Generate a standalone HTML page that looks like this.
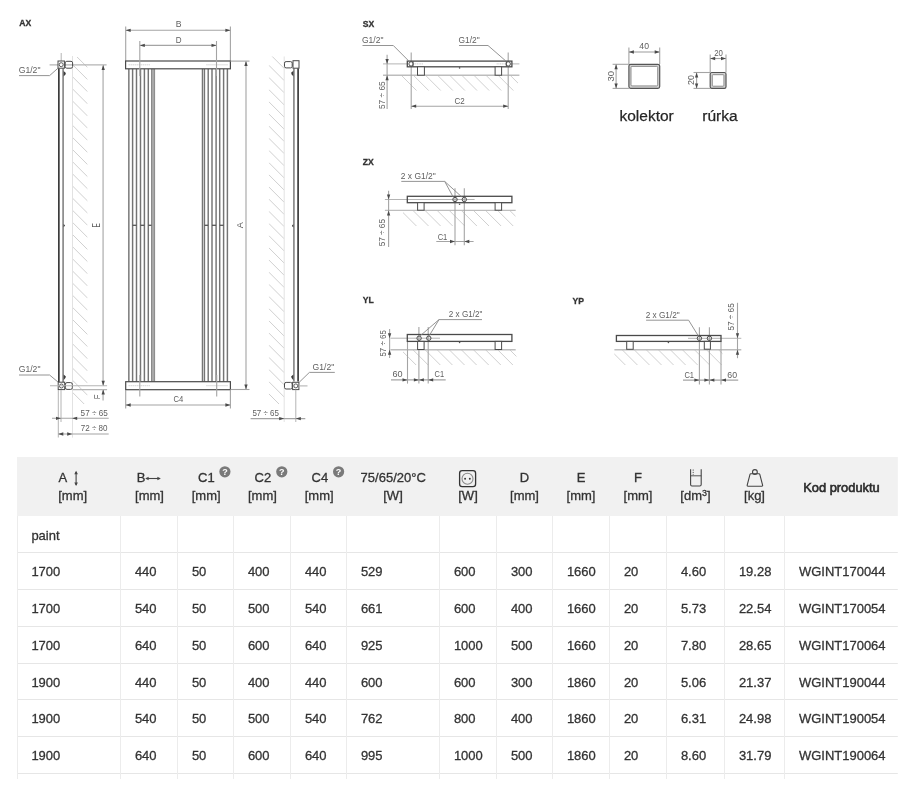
<!DOCTYPE html>
<html><head><meta charset="utf-8"><title>WGINT</title>
<style>
html,body{margin:0;padding:0;background:#fff;width:910px;height:790px;overflow:hidden}
svg{position:absolute;left:0;top:0;font-family:"Liberation Sans", sans-serif;will-change:transform}
</style></head>
<body>
<svg width="910" height="790" viewBox="0 0 910 790">
<g id="drawing">
<text x="19.3" y="26.3" font-size="8.6" fill="#333" font-weight="bold" stroke="#333" stroke-width="0.3">AX</text>
<clipPath id="v1"><rect x="72.4" y="57" width="15.2" height="347"/></clipPath>
<g clip-path="url(#v1)">
<line x1="72.4" y1="40.18" x2="87.6" y2="55.38" stroke="#cbcbcb" stroke-width="0.9"/>
<line x1="72.4" y1="52.32" x2="87.6" y2="67.52" stroke="#cbcbcb" stroke-width="0.9"/>
<line x1="72.4" y1="64.46" x2="87.6" y2="79.66" stroke="#cbcbcb" stroke-width="0.9"/>
<line x1="72.4" y1="76.6" x2="87.6" y2="91.8" stroke="#cbcbcb" stroke-width="0.9"/>
<line x1="72.4" y1="88.74" x2="87.6" y2="103.94" stroke="#cbcbcb" stroke-width="0.9"/>
<line x1="72.4" y1="100.88" x2="87.6" y2="116.08" stroke="#cbcbcb" stroke-width="0.9"/>
<line x1="72.4" y1="113.02" x2="87.6" y2="128.22" stroke="#cbcbcb" stroke-width="0.9"/>
<line x1="72.4" y1="125.16" x2="87.6" y2="140.36" stroke="#cbcbcb" stroke-width="0.9"/>
<line x1="72.4" y1="137.3" x2="87.6" y2="152.5" stroke="#cbcbcb" stroke-width="0.9"/>
<line x1="72.4" y1="149.44" x2="87.6" y2="164.64" stroke="#cbcbcb" stroke-width="0.9"/>
<line x1="72.4" y1="161.58" x2="87.6" y2="176.78" stroke="#cbcbcb" stroke-width="0.9"/>
<line x1="72.4" y1="173.72" x2="87.6" y2="188.92" stroke="#cbcbcb" stroke-width="0.9"/>
<line x1="72.4" y1="185.86" x2="87.6" y2="201.06" stroke="#cbcbcb" stroke-width="0.9"/>
<line x1="72.4" y1="198" x2="87.6" y2="213.2" stroke="#cbcbcb" stroke-width="0.9"/>
<line x1="72.4" y1="210.14" x2="87.6" y2="225.34" stroke="#cbcbcb" stroke-width="0.9"/>
<line x1="72.4" y1="222.28" x2="87.6" y2="237.48" stroke="#cbcbcb" stroke-width="0.9"/>
<line x1="72.4" y1="234.42" x2="87.6" y2="249.62" stroke="#cbcbcb" stroke-width="0.9"/>
<line x1="72.4" y1="246.56" x2="87.6" y2="261.76" stroke="#cbcbcb" stroke-width="0.9"/>
<line x1="72.4" y1="258.7" x2="87.6" y2="273.9" stroke="#cbcbcb" stroke-width="0.9"/>
<line x1="72.4" y1="270.84" x2="87.6" y2="286.04" stroke="#cbcbcb" stroke-width="0.9"/>
<line x1="72.4" y1="282.98" x2="87.6" y2="298.18" stroke="#cbcbcb" stroke-width="0.9"/>
<line x1="72.4" y1="295.12" x2="87.6" y2="310.32" stroke="#cbcbcb" stroke-width="0.9"/>
<line x1="72.4" y1="307.26" x2="87.6" y2="322.46" stroke="#cbcbcb" stroke-width="0.9"/>
<line x1="72.4" y1="319.4" x2="87.6" y2="334.6" stroke="#cbcbcb" stroke-width="0.9"/>
<line x1="72.4" y1="331.54" x2="87.6" y2="346.74" stroke="#cbcbcb" stroke-width="0.9"/>
<line x1="72.4" y1="343.68" x2="87.6" y2="358.88" stroke="#cbcbcb" stroke-width="0.9"/>
<line x1="72.4" y1="355.82" x2="87.6" y2="371.02" stroke="#cbcbcb" stroke-width="0.9"/>
<line x1="72.4" y1="367.96" x2="87.6" y2="383.16" stroke="#cbcbcb" stroke-width="0.9"/>
<line x1="72.4" y1="380.1" x2="87.6" y2="395.3" stroke="#cbcbcb" stroke-width="0.9"/>
<line x1="72.4" y1="392.24" x2="87.6" y2="407.44" stroke="#cbcbcb" stroke-width="0.9"/>
<line x1="72.4" y1="404.38" x2="87.6" y2="419.58" stroke="#cbcbcb" stroke-width="0.9"/>
</g>
<line x1="72.5" y1="56" x2="72.5" y2="437.6" stroke="#e2e2e2" stroke-width="1"/>
<line x1="61.2" y1="53" x2="61.2" y2="61" stroke="#b4b4b4" stroke-width="1"/>
<line x1="49.6" y1="64.9" x2="106.6" y2="64.9" stroke="#b4b4b4" stroke-width="1.1"/>
<line x1="58.85" y1="68.2" x2="58.85" y2="382.2" stroke="#3c3c3c" stroke-width="1.7"/>
<line x1="63.1" y1="68.2" x2="63.1" y2="382.2" stroke="#8a8a8a" stroke-width="1.7"/>
<rect x="58" y="61" width="6.4" height="7.2" rx="0" fill="#fff" stroke="#4a4a4a" stroke-width="1"/>
<circle cx="61.2" cy="64.7" r="2" fill="none" stroke="#4a4a4a" stroke-width="0.9"/>
<rect x="65.2" y="61.3" width="7.4" height="6.9" rx="1.6" fill="none" stroke="#4a4a4a" stroke-width="1"/>
<polygon points="63.6,71 65.9,73 65.4,74.4 63.6,76.6" fill="#3c3c3c"/>
<polygon points="63.6,223.96 64.98,225.16 64.68,226 63.6,227.32" fill="#3c3c3c"/>
<rect x="58.2" y="382.2" width="6.5" height="7.4" rx="0" fill="#fff" stroke="#4a4a4a" stroke-width="1"/>
<circle cx="61.4" cy="386" r="2" fill="none" stroke="#4a4a4a" stroke-width="0.9"/>
<rect x="65.4" y="382.6" width="6.9" height="6.8" rx="1.6" fill="none" stroke="#4a4a4a" stroke-width="1"/>
<polygon points="63.6,374.6 65.9,376.6 65.4,378 63.6,380.2" fill="#3c3c3c"/>
<line x1="50" y1="385.7" x2="107.1" y2="385.7" stroke="#b4b4b4" stroke-width="1.1"/>
<line x1="72.6" y1="389.6" x2="107.1" y2="389.6" stroke="#b4b4b4" stroke-width="1.1"/>
<line x1="103.1" y1="65" x2="103.1" y2="385.7" stroke="#c4c4c4" stroke-width="1.7"/>
<polygon points="103.2,65 101.55,70 104.85,70" fill="#4a4a4a"/>
<polygon points="103.2,385.7 101.55,380.7 104.85,380.7" fill="#4a4a4a"/>
<line x1="103.1" y1="389.6" x2="103.1" y2="400.5" stroke="#c4c4c4" stroke-width="1.7"/>
<polygon points="103.2,389.6 101.55,394.6 104.85,394.6" fill="#4a4a4a"/>
<text x="100.05" y="227.6" font-size="10.06" fill="#606060" textLength="4.41" lengthAdjust="spacingAndGlyphs" transform="rotate(-90 100.05 227.6)">E</text>
<text x="99.85" y="399.32" font-size="8.38" fill="#606060" textLength="4.74" lengthAdjust="spacingAndGlyphs" transform="rotate(-90 99.85 399.32)">F</text>
<text x="18.7" y="73.15" font-size="9.92" fill="#606060" textLength="21.79" lengthAdjust="spacingAndGlyphs">G1/2"</text>
<polyline points="19,75.6 49.6,75.6 58,68.2" fill="none" stroke="#888" stroke-width="0.9"/>
<text x="18.72" y="372.15" font-size="9.64" fill="#606060" textLength="21.76" lengthAdjust="spacingAndGlyphs">G1/2"</text>
<polyline points="19,375 49.6,375 58.2,382.2" fill="none" stroke="#888" stroke-width="0.9"/>
<line x1="58.3" y1="390" x2="58.3" y2="437.5" stroke="#b4b4b4" stroke-width="1"/>
<line x1="61" y1="390" x2="61" y2="422" stroke="#b4b4b4" stroke-width="1"/>
<line x1="52" y1="418.3" x2="108.7" y2="418.3" stroke="#a4a4a4" stroke-width="1.1"/>
<polygon points="61,418.3 56,416.65 56,419.95" fill="#4a4a4a"/>
<polygon points="72.2,418.3 77.2,416.65 77.2,419.95" fill="#4a4a4a"/>
<text x="80.62" y="415.75" font-size="9.64" fill="#606060" textLength="27.06" lengthAdjust="spacingAndGlyphs">57 ÷ 65</text>
<line x1="58.2" y1="434" x2="108.7" y2="434" stroke="#a4a4a4" stroke-width="1.1"/>
<polygon points="58.3,434 63.3,432.35 63.3,435.65" fill="#4a4a4a"/>
<polygon points="72.2,434 67.2,432.35 67.2,435.65" fill="#4a4a4a"/>
<text x="80.73" y="431.05" font-size="9.5" fill="#606060" textLength="26.75" lengthAdjust="spacingAndGlyphs">72 ÷ 80</text>
<line x1="125.7" y1="26.4" x2="125.7" y2="61" stroke="#a4a4a4" stroke-width="1.1"/>
<line x1="230.4" y1="26.4" x2="230.4" y2="61" stroke="#a4a4a4" stroke-width="1.1"/>
<line x1="125.7" y1="30.3" x2="230.4" y2="30.3" stroke="#a4a4a4" stroke-width="1.1"/>
<polygon points="125.7,30.3 130.7,28.65 130.7,31.95" fill="#4a4a4a"/>
<polygon points="230.4,30.3 225.4,28.65 225.4,31.95" fill="#4a4a4a"/>
<text x="175.65" y="27.15" font-size="9.08" fill="#606060" textLength="5.81" lengthAdjust="spacingAndGlyphs">B</text>
<line x1="139.8" y1="45.4" x2="216.5" y2="45.4" stroke="#a4a4a4" stroke-width="1.1"/>
<polygon points="139.8,45.4 144.8,43.75 144.8,47.05" fill="#4a4a4a"/>
<polygon points="216.5,45.4 211.5,43.75 211.5,47.05" fill="#4a4a4a"/>
<text x="175.64" y="42.85" font-size="9.22" fill="#606060" textLength="5.82" lengthAdjust="spacingAndGlyphs">D</text>
<line x1="128.85" y1="68.8" x2="128.85" y2="381.7" stroke="#747474" stroke-width="1.45"/>
<line x1="132.6" y1="68.8" x2="132.6" y2="381.7" stroke="#747474" stroke-width="1.45"/>
<line x1="136.5" y1="68.8" x2="136.5" y2="381.7" stroke="#747474" stroke-width="1.45"/>
<line x1="140.5" y1="68.8" x2="140.5" y2="381.7" stroke="#747474" stroke-width="1.45"/>
<line x1="144.4" y1="68.8" x2="144.4" y2="381.7" stroke="#747474" stroke-width="1.45"/>
<line x1="148.3" y1="68.8" x2="148.3" y2="381.7" stroke="#747474" stroke-width="1.45"/>
<line x1="208.2" y1="68.8" x2="208.2" y2="381.7" stroke="#747474" stroke-width="1.45"/>
<line x1="212" y1="68.8" x2="212" y2="381.7" stroke="#747474" stroke-width="1.45"/>
<line x1="216.1" y1="68.8" x2="216.1" y2="381.7" stroke="#747474" stroke-width="1.45"/>
<line x1="219.7" y1="68.8" x2="219.7" y2="381.7" stroke="#747474" stroke-width="1.45"/>
<line x1="223.6" y1="68.8" x2="223.6" y2="381.7" stroke="#747474" stroke-width="1.45"/>
<line x1="227.4" y1="68.8" x2="227.4" y2="381.7" stroke="#747474" stroke-width="1.45"/>
<rect x="151.3" y="68.8" width="3.5" height="312.9" fill="#a8a8a8"/>
<line x1="151.5" y1="68.8" x2="151.5" y2="381.7" stroke="#8a8a8a" stroke-width="1"/>
<line x1="154.6" y1="68.8" x2="154.6" y2="381.7" stroke="#8a8a8a" stroke-width="1"/>
<rect x="202.4" y="68.8" width="2.1" height="312.9" fill="#dcdcdc"/>
<line x1="202.4" y1="68.8" x2="202.4" y2="381.7" stroke="#747474" stroke-width="1.3"/>
<line x1="204.5" y1="68.8" x2="204.5" y2="381.7" stroke="#747474" stroke-width="1.3"/>
<line x1="132.6" y1="225.3" x2="136.5" y2="225.3" stroke="#555" stroke-width="1.3"/>
<line x1="140.5" y1="225.3" x2="144.4" y2="225.3" stroke="#555" stroke-width="1.3"/>
<line x1="148.3" y1="225.3" x2="151.5" y2="225.3" stroke="#555" stroke-width="1.3"/>
<line x1="204.5" y1="225.3" x2="208.2" y2="225.3" stroke="#555" stroke-width="1.3"/>
<line x1="212" y1="225.3" x2="216.1" y2="225.3" stroke="#555" stroke-width="1.3"/>
<line x1="219.7" y1="225.3" x2="223.6" y2="225.3" stroke="#555" stroke-width="1.3"/>
<rect x="125.6" y="61" width="104.8" height="7.8" rx="0" fill="#fff" stroke="#4a4a4a" stroke-width="1.2"/>
<line x1="128.6" y1="64.8" x2="150" y2="64.8" stroke="#bbb" stroke-width="0.8" stroke-dasharray="1.2,0.8"/>
<line x1="206.4" y1="64.8" x2="227.9" y2="64.8" stroke="#bbb" stroke-width="0.8" stroke-dasharray="1.2,0.8"/>
<line x1="139.8" y1="41" x2="139.8" y2="76" stroke="#a4a4a4" stroke-width="1.1"/>
<line x1="216.5" y1="41" x2="216.5" y2="76" stroke="#a4a4a4" stroke-width="1.1"/>
<rect x="125.7" y="381.7" width="104.7" height="8" rx="0" fill="#fff" stroke="#4a4a4a" stroke-width="1.2"/>
<line x1="128.6" y1="385.7" x2="150" y2="385.7" stroke="#bbb" stroke-width="0.8" stroke-dasharray="1.2,0.8"/>
<line x1="206.4" y1="385.7" x2="227.9" y2="385.7" stroke="#bbb" stroke-width="0.8" stroke-dasharray="1.2,0.8"/>
<line x1="139.8" y1="375" x2="139.8" y2="396.4" stroke="#a4a4a4" stroke-width="1.1"/>
<line x1="216.7" y1="375" x2="216.7" y2="396.4" stroke="#a4a4a4" stroke-width="1.1"/>
<line x1="125.7" y1="390" x2="125.7" y2="408.6" stroke="#a4a4a4" stroke-width="1.1"/>
<line x1="230.4" y1="390" x2="230.4" y2="408.6" stroke="#a4a4a4" stroke-width="1.1"/>
<line x1="125.7" y1="405" x2="230.4" y2="405" stroke="#a4a4a4" stroke-width="1.1"/>
<polygon points="125.7,405 130.7,403.35 130.7,406.65" fill="#4a4a4a"/>
<polygon points="230.4,405 225.4,403.35 225.4,406.65" fill="#4a4a4a"/>
<text x="173.54" y="402.25" font-size="9.22" fill="#606060" textLength="9.82" lengthAdjust="spacingAndGlyphs">C4</text>
<line x1="230.4" y1="61.1" x2="249.5" y2="61.1" stroke="#a4a4a4" stroke-width="1.1"/>
<line x1="230.4" y1="389.5" x2="249.5" y2="389.5" stroke="#a4a4a4" stroke-width="1.1"/>
<line x1="246" y1="61" x2="246" y2="389.2" stroke="#c4c4c4" stroke-width="1.7"/>
<polygon points="246,61.1 244.35,66.1 247.65,66.1" fill="#4a4a4a"/>
<polygon points="246,389.5 244.35,384.5 247.65,384.5" fill="#4a4a4a"/>
<text x="243.15" y="228.25" font-size="9.08" fill="#606060" textLength="6.01" lengthAdjust="spacingAndGlyphs" transform="rotate(-90 243.15 228.25)">A</text>
<clipPath id="v128"><rect x="268.8" y="56.5" width="15.4" height="347.5"/></clipPath>
<g clip-path="url(#v128)">
<line x1="268.8" y1="40.86" x2="284.2" y2="56.26" stroke="#cbcbcb" stroke-width="0.9"/>
<line x1="268.8" y1="53.03" x2="284.2" y2="68.43" stroke="#cbcbcb" stroke-width="0.9"/>
<line x1="268.8" y1="65.2" x2="284.2" y2="80.6" stroke="#cbcbcb" stroke-width="0.9"/>
<line x1="268.8" y1="77.37" x2="284.2" y2="92.77" stroke="#cbcbcb" stroke-width="0.9"/>
<line x1="268.8" y1="89.54" x2="284.2" y2="104.94" stroke="#cbcbcb" stroke-width="0.9"/>
<line x1="268.8" y1="101.71" x2="284.2" y2="117.11" stroke="#cbcbcb" stroke-width="0.9"/>
<line x1="268.8" y1="113.88" x2="284.2" y2="129.28" stroke="#cbcbcb" stroke-width="0.9"/>
<line x1="268.8" y1="126.05" x2="284.2" y2="141.45" stroke="#cbcbcb" stroke-width="0.9"/>
<line x1="268.8" y1="138.22" x2="284.2" y2="153.62" stroke="#cbcbcb" stroke-width="0.9"/>
<line x1="268.8" y1="150.39" x2="284.2" y2="165.79" stroke="#cbcbcb" stroke-width="0.9"/>
<line x1="268.8" y1="162.56" x2="284.2" y2="177.96" stroke="#cbcbcb" stroke-width="0.9"/>
<line x1="268.8" y1="174.73" x2="284.2" y2="190.13" stroke="#cbcbcb" stroke-width="0.9"/>
<line x1="268.8" y1="186.9" x2="284.2" y2="202.3" stroke="#cbcbcb" stroke-width="0.9"/>
<line x1="268.8" y1="199.07" x2="284.2" y2="214.47" stroke="#cbcbcb" stroke-width="0.9"/>
<line x1="268.8" y1="211.24" x2="284.2" y2="226.64" stroke="#cbcbcb" stroke-width="0.9"/>
<line x1="268.8" y1="223.41" x2="284.2" y2="238.81" stroke="#cbcbcb" stroke-width="0.9"/>
<line x1="268.8" y1="235.58" x2="284.2" y2="250.98" stroke="#cbcbcb" stroke-width="0.9"/>
<line x1="268.8" y1="247.75" x2="284.2" y2="263.15" stroke="#cbcbcb" stroke-width="0.9"/>
<line x1="268.8" y1="259.92" x2="284.2" y2="275.32" stroke="#cbcbcb" stroke-width="0.9"/>
<line x1="268.8" y1="272.09" x2="284.2" y2="287.49" stroke="#cbcbcb" stroke-width="0.9"/>
<line x1="268.8" y1="284.26" x2="284.2" y2="299.66" stroke="#cbcbcb" stroke-width="0.9"/>
<line x1="268.8" y1="296.43" x2="284.2" y2="311.83" stroke="#cbcbcb" stroke-width="0.9"/>
<line x1="268.8" y1="308.6" x2="284.2" y2="324" stroke="#cbcbcb" stroke-width="0.9"/>
<line x1="268.8" y1="320.77" x2="284.2" y2="336.17" stroke="#cbcbcb" stroke-width="0.9"/>
<line x1="268.8" y1="332.94" x2="284.2" y2="348.34" stroke="#cbcbcb" stroke-width="0.9"/>
<line x1="268.8" y1="345.11" x2="284.2" y2="360.51" stroke="#cbcbcb" stroke-width="0.9"/>
<line x1="268.8" y1="357.28" x2="284.2" y2="372.68" stroke="#cbcbcb" stroke-width="0.9"/>
<line x1="268.8" y1="369.45" x2="284.2" y2="384.85" stroke="#cbcbcb" stroke-width="0.9"/>
<line x1="268.8" y1="381.62" x2="284.2" y2="397.02" stroke="#cbcbcb" stroke-width="0.9"/>
<line x1="268.8" y1="393.79" x2="284.2" y2="409.19" stroke="#cbcbcb" stroke-width="0.9"/>
</g>
<line x1="284.2" y1="56.5" x2="284.2" y2="422" stroke="#e2e2e2" stroke-width="1"/>
<line x1="293.9" y1="68.2" x2="293.9" y2="381.6" stroke="#8a8a8a" stroke-width="1.7"/>
<line x1="298.1" y1="68.2" x2="298.1" y2="381.6" stroke="#3c3c3c" stroke-width="1.7"/>
<rect x="284.5" y="61.6" width="7.7" height="6.3" rx="1.6" fill="none" stroke="#4a4a4a" stroke-width="1"/>
<rect x="293" y="60.7" width="6" height="7.5" rx="0" fill="#fff" stroke="#4a4a4a" stroke-width="1"/>
<polygon points="293.4,70.8 291.1,72.8 291.6,74.2 293.4,76.4" fill="#3c3c3c"/>
<polygon points="293.4,224.16 292.02,225.36 292.32,226.2 293.4,227.52" fill="#3c3c3c"/>
<polygon points="293.4,374.6 291.1,376.6 291.6,378 293.4,380.2" fill="#3c3c3c"/>
<rect x="284.5" y="382.4" width="7.7" height="6.6" rx="1.6" fill="none" stroke="#4a4a4a" stroke-width="1"/>
<rect x="292.6" y="382.3" width="6.3" height="7.3" rx="0" fill="#fff" stroke="#4a4a4a" stroke-width="1"/>
<circle cx="295.8" cy="385.9" r="2" fill="none" stroke="#4a4a4a" stroke-width="0.9"/>
<line x1="299" y1="385.9" x2="307.5" y2="385.9" stroke="#b4b4b4" stroke-width="1.1"/>
<polyline points="299.2,382.3 309.4,372.4 334.8,372.4" fill="none" stroke="#888" stroke-width="0.9"/>
<text x="312.61" y="369.95" font-size="9.78" fill="#606060" textLength="21.68" lengthAdjust="spacingAndGlyphs">G1/2"</text>
<line x1="295.8" y1="389.6" x2="295.8" y2="422" stroke="#b4b4b4" stroke-width="1"/>
<line x1="250.6" y1="418.6" x2="305.3" y2="418.6" stroke="#a4a4a4" stroke-width="1.1"/>
<polygon points="284.2,418.6 279.2,416.95 279.2,420.25" fill="#4a4a4a"/>
<polygon points="295.8,418.6 300.8,416.95 300.8,420.25" fill="#4a4a4a"/>
<text x="252.43" y="415.85" font-size="9.5" fill="#606060" textLength="26.55" lengthAdjust="spacingAndGlyphs">57 ÷ 65</text>
<text x="362.8" y="26.8" font-size="8.6" fill="#333" font-weight="bold" stroke="#333" stroke-width="0.3">SX</text>
<clipPath id="h181"><rect x="401.3" y="75.2" width="116.7" height="15.5"/></clipPath>
<g clip-path="url(#h181)">
<line x1="401.2" y1="75.2" x2="416.7" y2="90.7" stroke="#cbcbcb" stroke-width="0.9"/>
<line x1="413.3" y1="75.2" x2="428.8" y2="90.7" stroke="#cbcbcb" stroke-width="0.9"/>
<line x1="425.4" y1="75.2" x2="440.9" y2="90.7" stroke="#cbcbcb" stroke-width="0.9"/>
<line x1="437.5" y1="75.2" x2="453" y2="90.7" stroke="#cbcbcb" stroke-width="0.9"/>
<line x1="449.6" y1="75.2" x2="465.1" y2="90.7" stroke="#cbcbcb" stroke-width="0.9"/>
<line x1="461.7" y1="75.2" x2="477.2" y2="90.7" stroke="#cbcbcb" stroke-width="0.9"/>
<line x1="473.8" y1="75.2" x2="489.3" y2="90.7" stroke="#cbcbcb" stroke-width="0.9"/>
<line x1="485.9" y1="75.2" x2="501.4" y2="90.7" stroke="#cbcbcb" stroke-width="0.9"/>
<line x1="498" y1="75.2" x2="513.5" y2="90.7" stroke="#cbcbcb" stroke-width="0.9"/>
<line x1="510.1" y1="75.2" x2="525.6" y2="90.7" stroke="#cbcbcb" stroke-width="0.9"/>
</g>
<line x1="383" y1="75.2" x2="519.4" y2="75.2" stroke="#bdbdbd" stroke-width="1.4"/>
<line x1="383" y1="63.9" x2="519.4" y2="63.9" stroke="#b4b4b4" stroke-width="1"/>
<line x1="411.2" y1="52.5" x2="411.2" y2="109" stroke="#a4a4a4" stroke-width="1.1"/>
<line x1="508.2" y1="52.5" x2="508.2" y2="109" stroke="#a4a4a4" stroke-width="1.1"/>
<rect x="407.3" y="61.1" width="104.6" height="5.7" rx="0" fill="#fff" stroke="#4a4a4a" stroke-width="1.3"/>
<line x1="413" y1="61.1" x2="413" y2="66.8" stroke="#4a4a4a" stroke-width="0.9"/>
<line x1="506.3" y1="61.1" x2="506.3" y2="66.8" stroke="#4a4a4a" stroke-width="0.9"/>
<circle cx="411.1" cy="63.9" r="2.2" fill="none" stroke="#4a4a4a" stroke-width="1"/>
<circle cx="508.2" cy="63.9" r="2.2" fill="none" stroke="#4a4a4a" stroke-width="1"/>
<line x1="413.5" y1="63.9" x2="422.8" y2="63.9" stroke="#aaa" stroke-width="0.7" stroke-dasharray="1,0.7"/>
<line x1="496.7" y1="63.9" x2="506" y2="63.9" stroke="#aaa" stroke-width="0.7" stroke-dasharray="1,0.7"/>
<rect x="417.5" y="66.8" width="6.9" height="8.4" rx="0" fill="#fff" stroke="#4a4a4a" stroke-width="1"/>
<rect x="495.1" y="66.8" width="6.5" height="8.4" rx="0" fill="#fff" stroke="#4a4a4a" stroke-width="1"/>
<circle cx="459.6" cy="67.9" r="0.8" fill="#555"/>
<text x="362.01" y="43.45" font-size="9.78" fill="#606060" textLength="21.48" lengthAdjust="spacingAndGlyphs">G1/2"</text>
<polyline points="362.5,45.5 393.3,45.5 409.2,61.4" fill="none" stroke="#888" stroke-width="0.9"/>
<text x="458.51" y="43.45" font-size="9.78" fill="#606060" textLength="21.18" lengthAdjust="spacingAndGlyphs">G1/2"</text>
<polyline points="459,45.5 488,45.5 506.3,61.4" fill="none" stroke="#888" stroke-width="0.9"/>
<line x1="387.1" y1="54.8" x2="387.1" y2="109" stroke="#a4a4a4" stroke-width="1.1"/>
<polygon points="387.1,63.9 385.45,58.9 388.75,58.9" fill="#4a4a4a"/>
<polygon points="387.1,75.2 385.45,80.2 388.75,80.2" fill="#4a4a4a"/>
<text x="384.55" y="109" font-size="9.92" fill="#606060" textLength="27.69" lengthAdjust="spacingAndGlyphs" transform="rotate(-90 384.55 109)">57 ÷ 65</text>
<line x1="411.2" y1="106.2" x2="508.2" y2="106.2" stroke="#a4a4a4" stroke-width="1.1"/>
<polygon points="411.2,106.2 416.2,104.55 416.2,107.85" fill="#4a4a4a"/>
<polygon points="508.2,106.2 503.2,104.55 503.2,107.85" fill="#4a4a4a"/>
<text x="454.54" y="103.55" font-size="9.22" fill="#606060" textLength="10.22" lengthAdjust="spacingAndGlyphs">C2</text>
<text x="362.8" y="165" font-size="8.6" fill="#333" font-weight="bold" stroke="#333" stroke-width="0.3">ZX</text>
<clipPath id="h221"><rect x="403" y="210.4" width="112.5" height="15.6"/></clipPath>
<g clip-path="url(#h221)">
<line x1="400.8" y1="210.4" x2="416.4" y2="226" stroke="#cbcbcb" stroke-width="0.9"/>
<line x1="412.9" y1="210.4" x2="428.5" y2="226" stroke="#cbcbcb" stroke-width="0.9"/>
<line x1="425" y1="210.4" x2="440.6" y2="226" stroke="#cbcbcb" stroke-width="0.9"/>
<line x1="437.1" y1="210.4" x2="452.7" y2="226" stroke="#cbcbcb" stroke-width="0.9"/>
<line x1="449.2" y1="210.4" x2="464.8" y2="226" stroke="#cbcbcb" stroke-width="0.9"/>
<line x1="461.3" y1="210.4" x2="476.9" y2="226" stroke="#cbcbcb" stroke-width="0.9"/>
<line x1="473.4" y1="210.4" x2="489" y2="226" stroke="#cbcbcb" stroke-width="0.9"/>
<line x1="485.5" y1="210.4" x2="501.1" y2="226" stroke="#cbcbcb" stroke-width="0.9"/>
<line x1="497.6" y1="210.4" x2="513.2" y2="226" stroke="#cbcbcb" stroke-width="0.9"/>
<line x1="509.7" y1="210.4" x2="525.3" y2="226" stroke="#cbcbcb" stroke-width="0.9"/>
</g>
<line x1="384.9" y1="210.4" x2="515.7" y2="210.4" stroke="#bdbdbd" stroke-width="1.4"/>
<line x1="384.9" y1="199.5" x2="474.6" y2="199.5" stroke="#b4b4b4" stroke-width="1"/>
<line x1="455" y1="188.3" x2="455" y2="245.3" stroke="#a4a4a4" stroke-width="1.1"/>
<line x1="464.3" y1="188.3" x2="464.3" y2="245.3" stroke="#a4a4a4" stroke-width="1.1"/>
<rect x="407.3" y="196.3" width="104.6" height="6.4" rx="0" fill="none" stroke="#4a4a4a" stroke-width="1.3"/>
<circle cx="455" cy="199.5" r="2.2" fill="none" stroke="#4a4a4a" stroke-width="1"/>
<circle cx="464.3" cy="199.5" r="2.2" fill="none" stroke="#4a4a4a" stroke-width="1"/>
<rect x="417.6" y="202.7" width="6.5" height="7.5" rx="0" fill="#fff" stroke="#4a4a4a" stroke-width="1"/>
<rect x="495.1" y="202.7" width="6.5" height="7.5" rx="0" fill="#fff" stroke="#4a4a4a" stroke-width="1"/>
<circle cx="459.6" cy="204.2" r="0.8" fill="#555"/>
<text x="400.84" y="178.55" font-size="9.22" fill="#606060" textLength="34.92" lengthAdjust="spacingAndGlyphs">2 x G1/2"</text>
<polyline points="401.3,181.4 444.7,181.4 453,196.7" fill="none" stroke="#888" stroke-width="0.9"/>
<line x1="444.7" y1="181.4" x2="461.5" y2="196.7" stroke="#888" stroke-width="0.9"/>
<line x1="388.6" y1="190.7" x2="388.6" y2="247.1" stroke="#a4a4a4" stroke-width="1.1"/>
<polygon points="388.6,199.5 386.95,194.5 390.25,194.5" fill="#4a4a4a"/>
<polygon points="388.6,210.4 386.95,215.4 390.25,215.4" fill="#4a4a4a"/>
<text x="385.25" y="246.27" font-size="9.5" fill="#606060" textLength="27.25" lengthAdjust="spacingAndGlyphs" transform="rotate(-90 385.25 246.27)">57 ÷ 65</text>
<line x1="436.3" y1="241.5" x2="473.6" y2="241.5" stroke="#a4a4a4" stroke-width="1.1"/>
<polygon points="455,241.5 450,239.85 450,243.15" fill="#4a4a4a"/>
<polygon points="464.3,241.5 469.3,239.85 469.3,243.15" fill="#4a4a4a"/>
<text x="437.66" y="239.55" font-size="8.8" fill="#606060" textLength="9.68" lengthAdjust="spacingAndGlyphs">C1</text>
<text x="362.8" y="302.7" font-size="8.6" fill="#333" font-weight="bold" stroke="#333" stroke-width="0.3">YL</text>
<clipPath id="h256"><rect x="403" y="349.7" width="113.4" height="15.3"/></clipPath>
<g clip-path="url(#h256)">
<line x1="400.8" y1="349.7" x2="416.1" y2="365" stroke="#cbcbcb" stroke-width="0.9"/>
<line x1="412.9" y1="349.7" x2="428.2" y2="365" stroke="#cbcbcb" stroke-width="0.9"/>
<line x1="425" y1="349.7" x2="440.3" y2="365" stroke="#cbcbcb" stroke-width="0.9"/>
<line x1="437.1" y1="349.7" x2="452.4" y2="365" stroke="#cbcbcb" stroke-width="0.9"/>
<line x1="449.2" y1="349.7" x2="464.5" y2="365" stroke="#cbcbcb" stroke-width="0.9"/>
<line x1="461.3" y1="349.7" x2="476.6" y2="365" stroke="#cbcbcb" stroke-width="0.9"/>
<line x1="473.4" y1="349.7" x2="488.7" y2="365" stroke="#cbcbcb" stroke-width="0.9"/>
<line x1="485.5" y1="349.7" x2="500.8" y2="365" stroke="#cbcbcb" stroke-width="0.9"/>
<line x1="497.6" y1="349.7" x2="512.9" y2="365" stroke="#cbcbcb" stroke-width="0.9"/>
<line x1="509.7" y1="349.7" x2="525" y2="365" stroke="#cbcbcb" stroke-width="0.9"/>
</g>
<line x1="390.5" y1="349.7" x2="515.7" y2="349.7" stroke="#bdbdbd" stroke-width="1.4"/>
<line x1="390.5" y1="338.2" x2="440" y2="338.2" stroke="#b4b4b4" stroke-width="1"/>
<line x1="407.5" y1="341.4" x2="407.5" y2="383.6" stroke="#a4a4a4" stroke-width="1.1"/>
<line x1="418.9" y1="327" x2="418.9" y2="383.6" stroke="#a4a4a4" stroke-width="1.1"/>
<line x1="428.2" y1="327" x2="428.2" y2="383.6" stroke="#a4a4a4" stroke-width="1.1"/>
<rect x="407.3" y="334.5" width="104.6" height="6.9" rx="0" fill="none" stroke="#4a4a4a" stroke-width="1.3"/>
<circle cx="419.1" cy="338.2" r="2.2" fill="none" stroke="#4a4a4a" stroke-width="1"/>
<circle cx="428.8" cy="338.2" r="2.2" fill="none" stroke="#4a4a4a" stroke-width="1"/>
<rect x="417.6" y="341.4" width="6.5" height="8.1" rx="0" fill="#fff" stroke="#4a4a4a" stroke-width="1"/>
<rect x="495.1" y="341.4" width="6.5" height="8.1" rx="0" fill="#fff" stroke="#4a4a4a" stroke-width="1"/>
<circle cx="459.6" cy="342.5" r="0.8" fill="#555"/>
<text x="448.84" y="317.25" font-size="9.22" fill="#606060" textLength="33.62" lengthAdjust="spacingAndGlyphs">2 x G1/2"</text>
<polyline points="482,319.6 439,319.6 419.5,336.4" fill="none" stroke="#888" stroke-width="0.9"/>
<line x1="439" y1="319.6" x2="428.8" y2="336.4" stroke="#888" stroke-width="0.9"/>
<line x1="389.6" y1="328.9" x2="389.6" y2="357.9" stroke="#a4a4a4" stroke-width="1.1"/>
<polygon points="389.6,338.2 387.95,333.2 391.25,333.2" fill="#4a4a4a"/>
<polygon points="389.6,349.7 387.95,354.7 391.25,354.7" fill="#4a4a4a"/>
<text x="386.05" y="356.57" font-size="9.5" fill="#606060" textLength="26.55" lengthAdjust="spacingAndGlyphs" transform="rotate(-90 386.05 356.57)">57 ÷ 65</text>
<line x1="391" y1="379.9" x2="445.7" y2="379.9" stroke="#a4a4a4" stroke-width="1.1"/>
<polygon points="407.5,379.9 402.5,378.25 402.5,381.55" fill="#4a4a4a"/>
<polygon points="418.9,379.9 413.9,378.25 413.9,381.55" fill="#4a4a4a"/>
<polygon points="418.9,379.9 423.9,378.25 423.9,381.55" fill="#4a4a4a"/>
<polygon points="428.2,379.9 433.2,378.25 433.2,381.55" fill="#4a4a4a"/>
<text x="392.44" y="376.95" font-size="9.22" fill="#606060" textLength="10.12" lengthAdjust="spacingAndGlyphs">60</text>
<text x="434.54" y="376.95" font-size="9.22" fill="#606060" textLength="9.52" lengthAdjust="spacingAndGlyphs">C1</text>
<text x="572.5" y="303.8" font-size="8.6" fill="#333" font-weight="bold" stroke="#333" stroke-width="0.3">YP</text>
<clipPath id="h295"><rect x="614.3" y="349.7" width="108.2" height="15.3"/></clipPath>
<g clip-path="url(#h295)">
<line x1="610.05" y1="349.7" x2="625.35" y2="365" stroke="#cbcbcb" stroke-width="0.9"/>
<line x1="622.1" y1="349.7" x2="637.4" y2="365" stroke="#cbcbcb" stroke-width="0.9"/>
<line x1="634.15" y1="349.7" x2="649.45" y2="365" stroke="#cbcbcb" stroke-width="0.9"/>
<line x1="646.2" y1="349.7" x2="661.5" y2="365" stroke="#cbcbcb" stroke-width="0.9"/>
<line x1="658.25" y1="349.7" x2="673.55" y2="365" stroke="#cbcbcb" stroke-width="0.9"/>
<line x1="670.3" y1="349.7" x2="685.6" y2="365" stroke="#cbcbcb" stroke-width="0.9"/>
<line x1="682.35" y1="349.7" x2="697.65" y2="365" stroke="#cbcbcb" stroke-width="0.9"/>
<line x1="694.4" y1="349.7" x2="709.7" y2="365" stroke="#cbcbcb" stroke-width="0.9"/>
<line x1="706.45" y1="349.7" x2="721.75" y2="365" stroke="#cbcbcb" stroke-width="0.9"/>
<line x1="718.5" y1="349.7" x2="733.8" y2="365" stroke="#cbcbcb" stroke-width="0.9"/>
</g>
<line x1="614.4" y1="349.7" x2="741.3" y2="349.7" stroke="#bdbdbd" stroke-width="1.4"/>
<line x1="688" y1="338.3" x2="741.3" y2="338.3" stroke="#b4b4b4" stroke-width="1"/>
<line x1="699.4" y1="327.2" x2="699.4" y2="384.4" stroke="#a4a4a4" stroke-width="1.1"/>
<line x1="709.4" y1="327.2" x2="709.4" y2="384.4" stroke="#a4a4a4" stroke-width="1.1"/>
<line x1="721" y1="341.4" x2="721" y2="384.4" stroke="#a4a4a4" stroke-width="1.1"/>
<rect x="616.4" y="335.5" width="104.6" height="5.9" rx="0" fill="none" stroke="#4a4a4a" stroke-width="1.3"/>
<circle cx="699.4" cy="338.3" r="2.2" fill="none" stroke="#4a4a4a" stroke-width="1"/>
<circle cx="709.4" cy="338.3" r="2.2" fill="none" stroke="#4a4a4a" stroke-width="1"/>
<rect x="626.7" y="341.4" width="6.5" height="7.9" rx="0" fill="#fff" stroke="#4a4a4a" stroke-width="1"/>
<rect x="704.3" y="341.4" width="6.1" height="7.8" rx="0" fill="#fff" stroke="#4a4a4a" stroke-width="1"/>
<circle cx="668.4" cy="342.4" r="0.8" fill="#555"/>
<text x="645.64" y="317.75" font-size="9.22" fill="#606060" textLength="34.12" lengthAdjust="spacingAndGlyphs">2 x G1/2"</text>
<polyline points="646.1,320.2 688.6,320.2 698.7,336.5" fill="none" stroke="#888" stroke-width="0.9"/>
<line x1="737.5" y1="302.8" x2="737.5" y2="358.2" stroke="#a4a4a4" stroke-width="1.1"/>
<polygon points="737.5,338.3 735.85,333.3 739.15,333.3" fill="#4a4a4a"/>
<polygon points="737.5,349.7 735.85,354.7 739.15,354.7" fill="#4a4a4a"/>
<text x="734.35" y="330.47" font-size="9.5" fill="#606060" textLength="27.15" lengthAdjust="spacingAndGlyphs" transform="rotate(-90 734.35 330.47)">57 ÷ 65</text>
<line x1="683" y1="380.1" x2="738.2" y2="380.1" stroke="#a4a4a4" stroke-width="1.1"/>
<polygon points="699.4,380.1 694.4,378.45 694.4,381.75" fill="#4a4a4a"/>
<polygon points="709.4,380.1 704.4,378.45 704.4,381.75" fill="#4a4a4a"/>
<polygon points="709.4,380.1 714.4,378.45 714.4,381.75" fill="#4a4a4a"/>
<polygon points="721,380.1 726,378.45 726,381.75" fill="#4a4a4a"/>
<text x="684.45" y="377.85" font-size="8.94" fill="#606060" textLength="9.59" lengthAdjust="spacingAndGlyphs">C1</text>
<text x="727.35" y="377.85" font-size="8.94" fill="#606060" textLength="9.79" lengthAdjust="spacingAndGlyphs">60</text>
<rect x="628.9" y="64.3" width="30.8" height="24.1" rx="1.8" fill="#d4d4d4" stroke="#555" stroke-width="1.2"/>
<rect x="631" y="66.4" width="26.7" height="19.5" rx="1" fill="#fff" stroke="#777" stroke-width="0.8"/>
<line x1="628.9" y1="47.6" x2="628.9" y2="64" stroke="#a4a4a4" stroke-width="1.1"/>
<line x1="659.7" y1="47.6" x2="659.7" y2="64" stroke="#a4a4a4" stroke-width="1.1"/>
<line x1="628.9" y1="52" x2="659.7" y2="52" stroke="#a4a4a4" stroke-width="1.1"/>
<polygon points="628.9,52 633.9,50.35 633.9,53.65" fill="#4a4a4a"/>
<polygon points="659.7,52 654.7,50.35 654.7,53.65" fill="#4a4a4a"/>
<text x="639.38" y="48.65" font-size="8.38" fill="#606060" textLength="9.64" lengthAdjust="spacingAndGlyphs">40</text>
<line x1="612.6" y1="64.3" x2="628.9" y2="64.3" stroke="#a4a4a4" stroke-width="1.1"/>
<line x1="612.6" y1="88.4" x2="628.9" y2="88.4" stroke="#a4a4a4" stroke-width="1.1"/>
<line x1="616.1" y1="64.3" x2="616.1" y2="88.4" stroke="#a4a4a4" stroke-width="1.1"/>
<polygon points="616.1,64.3 614.45,69.3 617.75,69.3" fill="#4a4a4a"/>
<polygon points="616.1,88.4 614.45,83.4 617.75,83.4" fill="#4a4a4a"/>
<text x="613.65" y="81.44" font-size="8.8" fill="#606060" textLength="10.58" lengthAdjust="spacingAndGlyphs" transform="rotate(-90 613.65 81.44)">30</text>
<rect x="710.2" y="72.5" width="15.8" height="15.9" rx="1.6" fill="#d4d4d4" stroke="#555" stroke-width="1.2"/>
<rect x="712.3" y="74.7" width="11.6" height="11.5" rx="0.8" fill="#fff" stroke="#777" stroke-width="0.8"/>
<line x1="710.2" y1="54.6" x2="710.2" y2="72.5" stroke="#a4a4a4" stroke-width="1.1"/>
<line x1="726" y1="54.6" x2="726" y2="72.5" stroke="#a4a4a4" stroke-width="1.1"/>
<line x1="710.2" y1="58.5" x2="726" y2="58.5" stroke="#a4a4a4" stroke-width="1.1"/>
<polygon points="710.2,58.5 715.2,56.85 715.2,60.15" fill="#4a4a4a"/>
<polygon points="726,58.5 721,56.85 721,60.15" fill="#4a4a4a"/>
<text x="714.18" y="55.65" font-size="8.38" fill="#606060" textLength="8.74" lengthAdjust="spacingAndGlyphs">20</text>
<line x1="693.5" y1="72.5" x2="710.2" y2="72.5" stroke="#a4a4a4" stroke-width="1.1"/>
<line x1="693.5" y1="88.4" x2="710.2" y2="88.4" stroke="#a4a4a4" stroke-width="1.1"/>
<line x1="696.6" y1="72.5" x2="696.6" y2="88.4" stroke="#a4a4a4" stroke-width="1.1"/>
<polygon points="696.6,72.5 694.95,77.5 698.25,77.5" fill="#4a4a4a"/>
<polygon points="696.6,88.4 694.95,83.4 698.25,83.4" fill="#4a4a4a"/>
<text x="693.65" y="84.92" font-size="8.38" fill="#606060" textLength="9.94" lengthAdjust="spacingAndGlyphs" transform="rotate(-90 693.65 84.92)">20</text>
<text stroke="#262626" stroke-width="0.25" x="619.5" y="120.8" font-size="15.5" fill="#262626">kolektor</text>
<text stroke="#262626" stroke-width="0.25" x="702.3" y="120.8" font-size="15.5" fill="#262626">rúrka</text>
</g>
<g id="table">
<rect x="17" y="457" width="880.8" height="59" fill="#f1f1f1"/>
<line x1="17" y1="552.5" x2="897.8" y2="552.5" stroke="#e6e6e6" stroke-width="1"/>
<line x1="17" y1="589.5" x2="897.8" y2="589.5" stroke="#e6e6e6" stroke-width="1"/>
<line x1="17" y1="626.5" x2="897.8" y2="626.5" stroke="#e6e6e6" stroke-width="1"/>
<line x1="17" y1="663.5" x2="897.8" y2="663.5" stroke="#e6e6e6" stroke-width="1"/>
<line x1="17" y1="699.5" x2="897.8" y2="699.5" stroke="#e6e6e6" stroke-width="1"/>
<line x1="17" y1="736.5" x2="897.8" y2="736.5" stroke="#e6e6e6" stroke-width="1"/>
<line x1="17" y1="773.5" x2="897.8" y2="773.5" stroke="#e6e6e6" stroke-width="1"/>
<line x1="17.5" y1="516" x2="17.5" y2="779" stroke="#ececec" stroke-width="1"/>
<line x1="120.5" y1="516" x2="120.5" y2="779" stroke="#ececec" stroke-width="1"/>
<line x1="177.5" y1="516" x2="177.5" y2="779" stroke="#ececec" stroke-width="1"/>
<line x1="233.5" y1="516" x2="233.5" y2="779" stroke="#ececec" stroke-width="1"/>
<line x1="290.5" y1="516" x2="290.5" y2="779" stroke="#ececec" stroke-width="1"/>
<line x1="346.5" y1="516" x2="346.5" y2="779" stroke="#ececec" stroke-width="1"/>
<line x1="439.5" y1="516" x2="439.5" y2="779" stroke="#ececec" stroke-width="1"/>
<line x1="496.5" y1="516" x2="496.5" y2="779" stroke="#ececec" stroke-width="1"/>
<line x1="552.5" y1="516" x2="552.5" y2="779" stroke="#ececec" stroke-width="1"/>
<line x1="609.5" y1="516" x2="609.5" y2="779" stroke="#ececec" stroke-width="1"/>
<line x1="666.5" y1="516" x2="666.5" y2="779" stroke="#ececec" stroke-width="1"/>
<line x1="724.5" y1="516" x2="724.5" y2="779" stroke="#ececec" stroke-width="1"/>
<line x1="784.5" y1="516" x2="784.5" y2="779" stroke="#ececec" stroke-width="1"/>
<text x="58.6" y="481.8" font-size="13" fill="#333" stroke="#333" stroke-width="0.3">A</text>
<text x="58.2" y="500.3" font-size="13" fill="#333" stroke="#333" stroke-width="0.3">[mm]</text>
<text x="136.8" y="481.8" font-size="13" fill="#333" stroke="#333" stroke-width="0.3">B</text>
<text x="135.1" y="500.3" font-size="13" fill="#333" stroke="#333" stroke-width="0.3">[mm]</text>
<text x="198" y="481.8" font-size="13" fill="#333" stroke="#333" stroke-width="0.3">C1</text>
<text x="191.7" y="500.3" font-size="13" fill="#333" stroke="#333" stroke-width="0.3">[mm]</text>
<text x="254.5" y="481.8" font-size="13" fill="#333" stroke="#333" stroke-width="0.3">C2</text>
<text x="248" y="500.3" font-size="13" fill="#333" stroke="#333" stroke-width="0.3">[mm]</text>
<text x="311.5" y="481.8" font-size="13" fill="#333" stroke="#333" stroke-width="0.3">C4</text>
<text x="304.7" y="500.3" font-size="13" fill="#333" stroke="#333" stroke-width="0.3">[mm]</text>
<text x="360.6" y="481.8" font-size="13" fill="#333" stroke="#333" stroke-width="0.3">75/65/20°C</text>
<text x="393" y="500.3" font-size="13" fill="#333" text-anchor="middle" stroke="#333" stroke-width="0.3">[W]</text>
<text x="468" y="500.3" font-size="13" fill="#333" text-anchor="middle" stroke="#333" stroke-width="0.3">[W]</text>
<text x="524.5" y="481.8" font-size="13" fill="#333" text-anchor="middle" stroke="#333" stroke-width="0.3">D</text>
<text x="524.5" y="500.3" font-size="13" fill="#333" text-anchor="middle" stroke="#333" stroke-width="0.3">[mm]</text>
<text x="581" y="481.8" font-size="13" fill="#333" text-anchor="middle" stroke="#333" stroke-width="0.3">E</text>
<text x="581" y="500.3" font-size="13" fill="#333" text-anchor="middle" stroke="#333" stroke-width="0.3">[mm]</text>
<text x="638" y="481.8" font-size="13" fill="#333" text-anchor="middle" stroke="#333" stroke-width="0.3">F</text>
<text x="638" y="500.3" font-size="13" fill="#333" text-anchor="middle" stroke="#333" stroke-width="0.3">[mm]</text>
<text x="695.5" y="500.3" font-size="13" fill="#333" text-anchor="middle" stroke="#333" stroke-width="0.3">[dm<tspan font-size="9" dy="-4">3</tspan><tspan dy="4">]</tspan></text>
<text x="754.5" y="500.3" font-size="13" fill="#333" text-anchor="middle" stroke="#333" stroke-width="0.3">[kg]</text>
<text x="803.2" y="492" font-size="13.2" fill="#2b2b2b" stroke="#2b2b2b" stroke-width="0.6" textLength="76.6" lengthAdjust="spacingAndGlyphs">Kod produktu</text>
<line x1="76.1" y1="472" x2="76.1" y2="485" stroke="#444" stroke-width="1.1"/>
<polygon points="76.1,470.8 74.3,474.2 77.9,474.2" fill="#444"/><polygon points="76.1,486 74.3,482.6 77.9,482.6" fill="#444"/>
<line x1="146" y1="478.5" x2="160" y2="478.5" stroke="#444" stroke-width="1.1"/>
<polygon points="145.2,478.5 148.6,476.8 148.6,480.2" fill="#444"/><polygon points="160.8,478.5 157.4,476.8 157.4,480.2" fill="#444"/>
<circle cx="224.9" cy="471.8" r="5.6" fill="#7a7a7a"/>
<text x="224.9" y="475.3" font-size="9" font-weight="bold" fill="#fff" text-anchor="middle">?</text>
<circle cx="281.8" cy="471.8" r="5.6" fill="#7a7a7a"/>
<text x="281.8" y="475.3" font-size="9" font-weight="bold" fill="#fff" text-anchor="middle">?</text>
<circle cx="338.6" cy="471.8" r="5.6" fill="#7a7a7a"/>
<text x="338.6" y="475.3" font-size="9" font-weight="bold" fill="#fff" text-anchor="middle">?</text>
<rect x="459.6" y="470.6" width="16" height="16" rx="2.6" fill="none" stroke="#333" stroke-width="1.3"/>
<circle cx="467.5" cy="478.7" r="5.5" fill="none" stroke="#8a8a8a" stroke-width="1.1"/>
<circle cx="465.1" cy="478.7" r="0.95" fill="#333"/><circle cx="469.8" cy="478.7" r="0.95" fill="#333"/>
<path d="M690.6,469.2 V484.6 Q690.6,486 692,486 H699.8 Q701.2,486 701.2,484.6 V469.2" fill="none" stroke="#444" stroke-width="1.1"/>
<line x1="690.6" y1="475.8" x2="701.2" y2="475.8" stroke="#444" stroke-width="0.9"/>
<line x1="693.2" y1="469.5" x2="693.2" y2="475" stroke="#444" stroke-width="0.9" stroke-dasharray="1.2,1.2"/>
<circle cx="754.9" cy="472" r="2.4" fill="none" stroke="#444" stroke-width="1.1"/>
<path d="M750.8,473.8 H759 Q759.6,473.8 759.8,474.4 L762.6,485.2 Q762.8,486.2 761.8,486.2 H748 Q747,486.2 747.2,485.2 L750,474.4 Q750.2,473.8 750.8,473.8 Z" fill="none" stroke="#444" stroke-width="1.1"/>
<text x="31.4" y="539.6" font-size="13.6" fill="#333" textLength="28.19" lengthAdjust="spacingAndGlyphs" stroke="#333" stroke-width="0.3">paint</text>
<text x="31.4" y="576.1" font-size="13.6" fill="#333" textLength="28.92" lengthAdjust="spacingAndGlyphs" stroke="#333" stroke-width="0.3">1700</text>
<text x="134.9" y="576.1" font-size="13.6" fill="#333" textLength="21.69" lengthAdjust="spacingAndGlyphs" stroke="#333" stroke-width="0.3">440</text>
<text x="191.9" y="576.1" font-size="13.6" fill="#333" textLength="14.46" lengthAdjust="spacingAndGlyphs" stroke="#333" stroke-width="0.3">50</text>
<text x="247.9" y="576.1" font-size="13.6" fill="#333" textLength="21.69" lengthAdjust="spacingAndGlyphs" stroke="#333" stroke-width="0.3">400</text>
<text x="304.9" y="576.1" font-size="13.6" fill="#333" textLength="21.69" lengthAdjust="spacingAndGlyphs" stroke="#333" stroke-width="0.3">440</text>
<text x="360.9" y="576.1" font-size="13.6" fill="#333" textLength="21.69" lengthAdjust="spacingAndGlyphs" stroke="#333" stroke-width="0.3">529</text>
<text x="453.9" y="576.1" font-size="13.6" fill="#333" textLength="21.69" lengthAdjust="spacingAndGlyphs" stroke="#333" stroke-width="0.3">600</text>
<text x="510.9" y="576.1" font-size="13.6" fill="#333" textLength="21.69" lengthAdjust="spacingAndGlyphs" stroke="#333" stroke-width="0.3">300</text>
<text x="566.9" y="576.1" font-size="13.6" fill="#333" textLength="28.92" lengthAdjust="spacingAndGlyphs" stroke="#333" stroke-width="0.3">1660</text>
<text x="623.9" y="576.1" font-size="13.6" fill="#333" textLength="14.46" lengthAdjust="spacingAndGlyphs" stroke="#333" stroke-width="0.3">20</text>
<text x="680.9" y="576.1" font-size="13.6" fill="#333" textLength="25.30" lengthAdjust="spacingAndGlyphs" stroke="#333" stroke-width="0.3">4.60</text>
<text x="738.9" y="576.1" font-size="13.6" fill="#333" textLength="32.53" lengthAdjust="spacingAndGlyphs" stroke="#333" stroke-width="0.3">19.28</text>
<text x="798.9" y="576.1" font-size="13.6" fill="#333" textLength="86.70" lengthAdjust="spacingAndGlyphs" stroke="#333" stroke-width="0.3">WGINT170044</text>
<text x="31.4" y="613.1" font-size="13.6" fill="#333" textLength="28.92" lengthAdjust="spacingAndGlyphs" stroke="#333" stroke-width="0.3">1700</text>
<text x="134.9" y="613.1" font-size="13.6" fill="#333" textLength="21.69" lengthAdjust="spacingAndGlyphs" stroke="#333" stroke-width="0.3">540</text>
<text x="191.9" y="613.1" font-size="13.6" fill="#333" textLength="14.46" lengthAdjust="spacingAndGlyphs" stroke="#333" stroke-width="0.3">50</text>
<text x="247.9" y="613.1" font-size="13.6" fill="#333" textLength="21.69" lengthAdjust="spacingAndGlyphs" stroke="#333" stroke-width="0.3">500</text>
<text x="304.9" y="613.1" font-size="13.6" fill="#333" textLength="21.69" lengthAdjust="spacingAndGlyphs" stroke="#333" stroke-width="0.3">540</text>
<text x="360.9" y="613.1" font-size="13.6" fill="#333" textLength="21.69" lengthAdjust="spacingAndGlyphs" stroke="#333" stroke-width="0.3">661</text>
<text x="453.9" y="613.1" font-size="13.6" fill="#333" textLength="21.69" lengthAdjust="spacingAndGlyphs" stroke="#333" stroke-width="0.3">600</text>
<text x="510.9" y="613.1" font-size="13.6" fill="#333" textLength="21.69" lengthAdjust="spacingAndGlyphs" stroke="#333" stroke-width="0.3">400</text>
<text x="566.9" y="613.1" font-size="13.6" fill="#333" textLength="28.92" lengthAdjust="spacingAndGlyphs" stroke="#333" stroke-width="0.3">1660</text>
<text x="623.9" y="613.1" font-size="13.6" fill="#333" textLength="14.46" lengthAdjust="spacingAndGlyphs" stroke="#333" stroke-width="0.3">20</text>
<text x="680.9" y="613.1" font-size="13.6" fill="#333" textLength="25.30" lengthAdjust="spacingAndGlyphs" stroke="#333" stroke-width="0.3">5.73</text>
<text x="738.9" y="613.1" font-size="13.6" fill="#333" textLength="32.53" lengthAdjust="spacingAndGlyphs" stroke="#333" stroke-width="0.3">22.54</text>
<text x="798.9" y="613.1" font-size="13.6" fill="#333" textLength="86.70" lengthAdjust="spacingAndGlyphs" stroke="#333" stroke-width="0.3">WGINT170054</text>
<text x="31.4" y="650.1" font-size="13.6" fill="#333" textLength="28.92" lengthAdjust="spacingAndGlyphs" stroke="#333" stroke-width="0.3">1700</text>
<text x="134.9" y="650.1" font-size="13.6" fill="#333" textLength="21.69" lengthAdjust="spacingAndGlyphs" stroke="#333" stroke-width="0.3">640</text>
<text x="191.9" y="650.1" font-size="13.6" fill="#333" textLength="14.46" lengthAdjust="spacingAndGlyphs" stroke="#333" stroke-width="0.3">50</text>
<text x="247.9" y="650.1" font-size="13.6" fill="#333" textLength="21.69" lengthAdjust="spacingAndGlyphs" stroke="#333" stroke-width="0.3">600</text>
<text x="304.9" y="650.1" font-size="13.6" fill="#333" textLength="21.69" lengthAdjust="spacingAndGlyphs" stroke="#333" stroke-width="0.3">640</text>
<text x="360.9" y="650.1" font-size="13.6" fill="#333" textLength="21.69" lengthAdjust="spacingAndGlyphs" stroke="#333" stroke-width="0.3">925</text>
<text x="453.9" y="650.1" font-size="13.6" fill="#333" textLength="28.92" lengthAdjust="spacingAndGlyphs" stroke="#333" stroke-width="0.3">1000</text>
<text x="510.9" y="650.1" font-size="13.6" fill="#333" textLength="21.69" lengthAdjust="spacingAndGlyphs" stroke="#333" stroke-width="0.3">500</text>
<text x="566.9" y="650.1" font-size="13.6" fill="#333" textLength="28.92" lengthAdjust="spacingAndGlyphs" stroke="#333" stroke-width="0.3">1660</text>
<text x="623.9" y="650.1" font-size="13.6" fill="#333" textLength="14.46" lengthAdjust="spacingAndGlyphs" stroke="#333" stroke-width="0.3">20</text>
<text x="680.9" y="650.1" font-size="13.6" fill="#333" textLength="25.30" lengthAdjust="spacingAndGlyphs" stroke="#333" stroke-width="0.3">7.80</text>
<text x="738.9" y="650.1" font-size="13.6" fill="#333" textLength="32.53" lengthAdjust="spacingAndGlyphs" stroke="#333" stroke-width="0.3">28.65</text>
<text x="798.9" y="650.1" font-size="13.6" fill="#333" textLength="86.70" lengthAdjust="spacingAndGlyphs" stroke="#333" stroke-width="0.3">WGINT170064</text>
<text x="31.4" y="687.1" font-size="13.6" fill="#333" textLength="28.92" lengthAdjust="spacingAndGlyphs" stroke="#333" stroke-width="0.3">1900</text>
<text x="134.9" y="687.1" font-size="13.6" fill="#333" textLength="21.69" lengthAdjust="spacingAndGlyphs" stroke="#333" stroke-width="0.3">440</text>
<text x="191.9" y="687.1" font-size="13.6" fill="#333" textLength="14.46" lengthAdjust="spacingAndGlyphs" stroke="#333" stroke-width="0.3">50</text>
<text x="247.9" y="687.1" font-size="13.6" fill="#333" textLength="21.69" lengthAdjust="spacingAndGlyphs" stroke="#333" stroke-width="0.3">400</text>
<text x="304.9" y="687.1" font-size="13.6" fill="#333" textLength="21.69" lengthAdjust="spacingAndGlyphs" stroke="#333" stroke-width="0.3">440</text>
<text x="360.9" y="687.1" font-size="13.6" fill="#333" textLength="21.69" lengthAdjust="spacingAndGlyphs" stroke="#333" stroke-width="0.3">600</text>
<text x="453.9" y="687.1" font-size="13.6" fill="#333" textLength="21.69" lengthAdjust="spacingAndGlyphs" stroke="#333" stroke-width="0.3">600</text>
<text x="510.9" y="687.1" font-size="13.6" fill="#333" textLength="21.69" lengthAdjust="spacingAndGlyphs" stroke="#333" stroke-width="0.3">300</text>
<text x="566.9" y="687.1" font-size="13.6" fill="#333" textLength="28.92" lengthAdjust="spacingAndGlyphs" stroke="#333" stroke-width="0.3">1860</text>
<text x="623.9" y="687.1" font-size="13.6" fill="#333" textLength="14.46" lengthAdjust="spacingAndGlyphs" stroke="#333" stroke-width="0.3">20</text>
<text x="680.9" y="687.1" font-size="13.6" fill="#333" textLength="25.30" lengthAdjust="spacingAndGlyphs" stroke="#333" stroke-width="0.3">5.06</text>
<text x="738.9" y="687.1" font-size="13.6" fill="#333" textLength="32.53" lengthAdjust="spacingAndGlyphs" stroke="#333" stroke-width="0.3">21.37</text>
<text x="798.9" y="687.1" font-size="13.6" fill="#333" textLength="86.70" lengthAdjust="spacingAndGlyphs" stroke="#333" stroke-width="0.3">WGINT190044</text>
<text x="31.4" y="723.1" font-size="13.6" fill="#333" textLength="28.92" lengthAdjust="spacingAndGlyphs" stroke="#333" stroke-width="0.3">1900</text>
<text x="134.9" y="723.1" font-size="13.6" fill="#333" textLength="21.69" lengthAdjust="spacingAndGlyphs" stroke="#333" stroke-width="0.3">540</text>
<text x="191.9" y="723.1" font-size="13.6" fill="#333" textLength="14.46" lengthAdjust="spacingAndGlyphs" stroke="#333" stroke-width="0.3">50</text>
<text x="247.9" y="723.1" font-size="13.6" fill="#333" textLength="21.69" lengthAdjust="spacingAndGlyphs" stroke="#333" stroke-width="0.3">500</text>
<text x="304.9" y="723.1" font-size="13.6" fill="#333" textLength="21.69" lengthAdjust="spacingAndGlyphs" stroke="#333" stroke-width="0.3">540</text>
<text x="360.9" y="723.1" font-size="13.6" fill="#333" textLength="21.69" lengthAdjust="spacingAndGlyphs" stroke="#333" stroke-width="0.3">762</text>
<text x="453.9" y="723.1" font-size="13.6" fill="#333" textLength="21.69" lengthAdjust="spacingAndGlyphs" stroke="#333" stroke-width="0.3">800</text>
<text x="510.9" y="723.1" font-size="13.6" fill="#333" textLength="21.69" lengthAdjust="spacingAndGlyphs" stroke="#333" stroke-width="0.3">400</text>
<text x="566.9" y="723.1" font-size="13.6" fill="#333" textLength="28.92" lengthAdjust="spacingAndGlyphs" stroke="#333" stroke-width="0.3">1860</text>
<text x="623.9" y="723.1" font-size="13.6" fill="#333" textLength="14.46" lengthAdjust="spacingAndGlyphs" stroke="#333" stroke-width="0.3">20</text>
<text x="680.9" y="723.1" font-size="13.6" fill="#333" textLength="25.30" lengthAdjust="spacingAndGlyphs" stroke="#333" stroke-width="0.3">6.31</text>
<text x="738.9" y="723.1" font-size="13.6" fill="#333" textLength="32.53" lengthAdjust="spacingAndGlyphs" stroke="#333" stroke-width="0.3">24.98</text>
<text x="798.9" y="723.1" font-size="13.6" fill="#333" textLength="86.70" lengthAdjust="spacingAndGlyphs" stroke="#333" stroke-width="0.3">WGINT190054</text>
<text x="31.4" y="760.1" font-size="13.6" fill="#333" textLength="28.92" lengthAdjust="spacingAndGlyphs" stroke="#333" stroke-width="0.3">1900</text>
<text x="134.9" y="760.1" font-size="13.6" fill="#333" textLength="21.69" lengthAdjust="spacingAndGlyphs" stroke="#333" stroke-width="0.3">640</text>
<text x="191.9" y="760.1" font-size="13.6" fill="#333" textLength="14.46" lengthAdjust="spacingAndGlyphs" stroke="#333" stroke-width="0.3">50</text>
<text x="247.9" y="760.1" font-size="13.6" fill="#333" textLength="21.69" lengthAdjust="spacingAndGlyphs" stroke="#333" stroke-width="0.3">600</text>
<text x="304.9" y="760.1" font-size="13.6" fill="#333" textLength="21.69" lengthAdjust="spacingAndGlyphs" stroke="#333" stroke-width="0.3">640</text>
<text x="360.9" y="760.1" font-size="13.6" fill="#333" textLength="21.69" lengthAdjust="spacingAndGlyphs" stroke="#333" stroke-width="0.3">995</text>
<text x="453.9" y="760.1" font-size="13.6" fill="#333" textLength="28.92" lengthAdjust="spacingAndGlyphs" stroke="#333" stroke-width="0.3">1000</text>
<text x="510.9" y="760.1" font-size="13.6" fill="#333" textLength="21.69" lengthAdjust="spacingAndGlyphs" stroke="#333" stroke-width="0.3">500</text>
<text x="566.9" y="760.1" font-size="13.6" fill="#333" textLength="28.92" lengthAdjust="spacingAndGlyphs" stroke="#333" stroke-width="0.3">1860</text>
<text x="623.9" y="760.1" font-size="13.6" fill="#333" textLength="14.46" lengthAdjust="spacingAndGlyphs" stroke="#333" stroke-width="0.3">20</text>
<text x="680.9" y="760.1" font-size="13.6" fill="#333" textLength="25.30" lengthAdjust="spacingAndGlyphs" stroke="#333" stroke-width="0.3">8.60</text>
<text x="738.9" y="760.1" font-size="13.6" fill="#333" textLength="32.53" lengthAdjust="spacingAndGlyphs" stroke="#333" stroke-width="0.3">31.79</text>
<text x="798.9" y="760.1" font-size="13.6" fill="#333" textLength="86.70" lengthAdjust="spacingAndGlyphs" stroke="#333" stroke-width="0.3">WGINT190064</text>
</g>
</svg>
</body></html>
